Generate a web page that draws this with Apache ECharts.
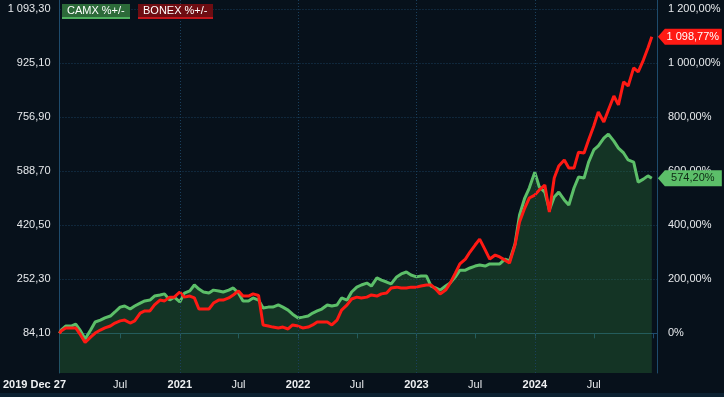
<!DOCTYPE html>
<html>
<head>
<meta charset="utf-8">
<script src="https://cdn.jsdelivr.net/npm/echarts@6/dist/echarts.min.js"></script>
<style>
  html, body { margin: 0; padding: 0; background: #07111b; }
  #chart { width: 724px; height: 397px; }
</style>
</head>
<body>
<div id="chart"></div>
<script>
// half-month sampling: start, 1st and 15th of each month, end
var startDate = '2019-12-27';
var endDate = '2024-12-27';
var dates = [startDate];
for (var yr = 2020; yr <= 2024; yr++) {
  for (var mo = 1; mo <= 12; mo++) {
    var mm = mo < 10 ? '0' + mo : '' + mo;
    dates.push(yr + '-' + mm + '-01');
    dates.push(yr + '-' + mm + '-15');
  }
}
dates.push(endDate);

// % change since start
var camx = [0,
  12, 27, 27, 34, 9, -21, 12, 42, 49, 57,
  64, 79, 97, 101, 90, 101, 112, 120, 123, 138,
  142, 146, 123, 134, 116, 149, 157, 179, 164, 153,
  149, 160, 157, 153, 160, 168, 149, 120, 120, 131,
  123, 94, 97, 97, 105, 97, 86, 71, 57, 60,
  64, 75, 83, 90, 105, 101, 105, 131, 123, 153,
  171, 179, 186, 175, 205, 197, 190, 183, 209, 220,
  227, 216, 209, 212, 212, 175, 168, 160, 175, 186,
  209, 234, 234, 242, 249, 253, 249, 257, 257, 257,
  275, 268, 331, 438, 501, 538, 597, 542, 523, 457,
  505, 523, 494, 475, 538, 579, 575, 634, 679, 694,
  723, 738, 712, 686, 668, 642, 634, 560, 571, 583,
  574.20];

var bonex = [0,
  9, 20, 20, 20, -6, -34, -14, 1, 12, 20,
  27, 38, 46, 49, 38, 46, 75, 83, 83, 105,
  123, 120, 134, 134, 153, 134, 138, 131, 90, 90,
  90, 112, 123, 123, 131, 142, 157, 138, 138, 146,
  140, 31, 27, 23, 20, 23, 16, 31, 27, 20,
  23, 31, 42, 42, 42, 31, 49, 86, 105, 127,
  134, 131, 134, 142, 138, 146, 149, 168, 171, 168,
  168, 171, 171, 175, 179, 179, 164, 146, 160, 186,
  223, 257, 275, 301, 327, 349, 309, 275, 290, 283,
  271, 260, 327, 412, 464, 501, 512, 531, 549, 449,
  575, 620, 642, 612, 612, 671, 668, 716, 768, 820,
  783, 827, 879, 846, 931, 916, 983, 968, 1012, 1057,
  1098.77];

var basePrice = 84.10;
var pctTicks = [0, 200, 400, 600, 800, 1000, 1200];
var timeTicks = ['2019-12-27', '2020-07-01', '2021-01-01', '2021-07-01', '2022-01-01',
  '2022-07-01', '2023-01-01', '2023-07-01', '2024-01-01', '2024-07-01'];
var yearLines = ['2021-01-01', '2022-01-01', '2023-01-01', '2024-01-01'];

function ts(s) { return new Date(s + 'T00:00:00Z').getTime(); }

function fmtNum(v, dec) {
  var s = Math.abs(v).toFixed(dec).split('.');
  var ip = s[0].replace(/\B(?=(\d{3})+(?!\d))/g, ' ');
  return (v < 0 ? '-' : '') + ip + (dec > 0 ? ',' + s[1] : '');
}

var monthNames = ['Jan','Feb','Mar','Apr','May','Jun','Jul','Aug','Sep','Oct','Nov','Dec'];

var font = 'Liberation Sans, Arial, sans-serif';
var gridCol = '#1a3f5c';
var axisCol = '#1e4b6c';

var camxData = [], bonexData = [];
for (var i = 0; i < dates.length; i++) {
  camxData.push([ts(dates[i]), camx[i]]);
  bonexData.push([ts(dates[i]), bonex[i]]);
}
var last = dates.length - 1;

var tagPath = 'path://M0,8 L7,0 L64,0 L64,16 L7,16 Z';

var myChart = echarts.init(document.getElementById('chart'));
var option = {
  backgroundColor: '#07111b',
  animation: false,
  textStyle: { fontFamily: font },
  grid: { left: 58, right: 67, top: 0, bottom: 24 },
  xAxis: {
    type: 'value',
    min: ts(startDate),
    max: ts('2025-01-12'),
    axisLine: { show: true, lineStyle: { color: axisCol, width: 1 } },
    axisTick: {
      show: true, inside: false, length: 5,
      lineStyle: { color: axisCol },
      customValues: timeTicks.map(ts).concat([ts('2025-01-01')])
    },
    splitLine: { show: false },
    axisLabel: {
      customValues: timeTicks.map(ts),
      margin: 6,
      color: '#e6e9ec',
      fontSize: 11,
      fontFamily: font,
      formatter: function (v) {
        var d = new Date(v);
        if (v === ts(startDate)) {
          return '{first|' + d.getUTCFullYear() + ' ' + monthNames[d.getUTCMonth()] + ' ' + d.getUTCDate() + '}';
        }
        if (d.getUTCMonth() === 0) return '{yr|' + d.getUTCFullYear() + '}';
        return monthNames[d.getUTCMonth()];
      },
      rich: {
        first: { fontWeight: 'bold', fontSize: 11, color: '#eef0f2', padding: [0, 50, 0, 0], fontFamily: font },
        yr: { fontWeight: 'bold', fontSize: 11, color: '#eef0f2', fontFamily: font }
      }
    }
  },
  yAxis: [{
    type: 'value',
    position: 'left',
    min: -147,
    max: 1234.5,
    axisLine: { show: true, lineStyle: { color: axisCol } },
    axisTick: { show: false, customValues: pctTicks },
    splitLine: { show: true, lineStyle: { color: gridCol, type: [1, 2], width: 1 } },
    axisLabel: {
      customValues: pctTicks,
      margin: 9,
      color: '#e6e9ec',
      fontSize: 11,
      fontFamily: font,
      formatter: function (v) { return fmtNum(basePrice * (1 + v / 100), 2); }
    }
  }, {
    type: 'value',
    position: 'right',
    min: -147,
    max: 1234.5,
    axisLine: { show: true, lineStyle: { color: axisCol } },
    axisTick: { show: false, customValues: pctTicks },
    splitLine: { show: false },
    axisLabel: {
      customValues: pctTicks,
      margin: 11,
      color: '#e6e9ec',
      fontSize: 11,
      fontFamily: font,
      formatter: function (v) { return v === 0 ? '0%' : fmtNum(v, 2) + '%'; }
    }
  }],
  series: [{
    name: 'CAMX %+/-',
    type: 'line',
    yAxisIndex: 1,
    data: camxData,
    showSymbol: false,
    symbol: 'none',
    z: 3,
    lineStyle: { color: '#5cbf69', width: 3 },
    areaStyle: { color: 'rgba(50,130,60,0.45)', origin: 'start' },
    markLine: {
      silent: true,
      symbol: ['none', 'none'],
      label: { show: false },
      lineStyle: { color: gridCol, type: [1, 2], width: 1 },
      data: yearLines.map(function (d) { return { xAxis: ts(d) }; })
    },
    markPoint: {
      silent: true,
      symbol: tagPath,
      symbolSize: [64, 16],
      symbolKeepAspect: false,
      symbolOffset: [38, 0],
      itemStyle: { color: '#5cbf69' },
      label: {
        show: true, position: 'inside', offset: [3, 0],
        color: '#0f2a15', fontSize: 11, fontFamily: font,
        formatter: function (p) { return fmtNum(p.value, 2) + '%'; }
      },
      data: [{ coord: camxData[last], value: camx[last] }]
    }
  }, {
    name: 'BONEX %+/-',
    type: 'line',
    yAxisIndex: 1,
    data: bonexData,
    showSymbol: false,
    symbol: 'none',
    z: 4,
    lineStyle: { color: '#ff1a14', width: 3 },
    markPoint: {
      silent: true,
      symbol: tagPath,
      symbolSize: [64, 16],
      symbolKeepAspect: false,
      symbolOffset: [38, 0],
      itemStyle: { color: '#ff1a14' },
      label: {
        show: true, position: 'inside', offset: [3, 0],
        color: '#ffffff', fontSize: 11, fontFamily: font,
        formatter: function (p) { return fmtNum(p.value, 2) + '%'; }
      },
      data: [{ coord: bonexData[last], value: bonex[last] }]
    }
  }],
  graphic: [
    { type: 'rect', shape: { x: 0, y: 393, width: 724, height: 4 }, style: { fill: '#0c2131' }, silent: true },
    // legend boxes
    { type: 'rect', shape: { x: 62, y: 4, width: 68, height: 15 }, style: { fill: '#2c6a39' }, silent: true, z: 10 },
    { type: 'rect', shape: { x: 62, y: 17, width: 68, height: 2 }, style: { fill: '#4fb05e' }, silent: true, z: 11 },
    { type: 'text', x: 67, y: 11, style: { text: 'CAMX %+/-', fill: '#ffffff', font: '11px ' + font, verticalAlign: 'middle' }, silent: true, z: 12 },
    { type: 'rect', shape: { x: 138, y: 4, width: 75, height: 15 }, style: { fill: '#6e0d12' }, silent: true, z: 10 },
    { type: 'rect', shape: { x: 138, y: 17, width: 75, height: 2 }, style: { fill: '#c3161c' }, silent: true, z: 11 },
    { type: 'text', x: 143, y: 11, style: { text: 'BONEX %+/-', fill: '#ffffff', font: '11px ' + font, verticalAlign: 'middle' }, silent: true, z: 12 }
  ]
};
myChart.setOption(option);
</script>
</body>
</html>
